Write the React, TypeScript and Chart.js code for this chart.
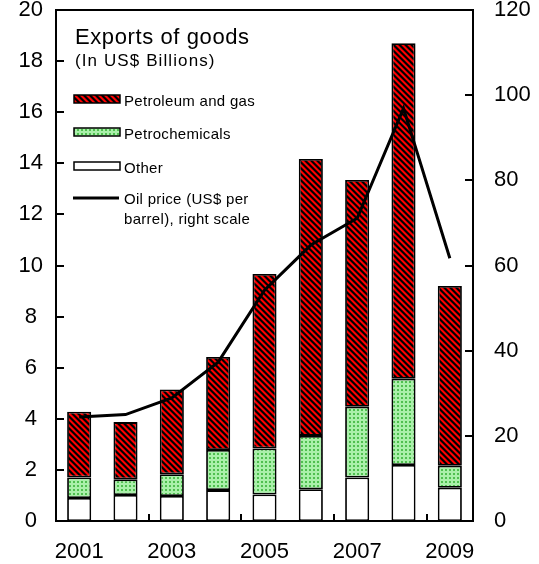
import React, { useEffect, useRef } from 'react';
import { Chart, registerables } from 'chart.js';

Chart.register(...registerables);

const years = ['2001', '2002', '2003', '2004', '2005', '2006', '2007', '2008', '2009'];
const shownYears = ['2001', '', '2003', '', '2005', '', '2007', '', '2009'];
const other = [0.9, 1.02, 0.98, 1.21, 1.04, 1.24, 1.7, 2.19, 1.3];
const petrochemicals = [0.8, 0.61, 0.85, 1.57, 1.8, 2.09, 2.77, 3.38, 0.86];
const petroleumGas = [2.58, 2.24, 3.32, 3.64, 6.83, 10.84, 8.88, 13.13, 7.04];
const oilPrice = [24.4, 25.0, 28.9, 37.3, 54.2, 64.8, 71.1, 96.9, 61.7];

const titleText = 'Exports of goods';
const subtitleText = '(In US$ Billions)';
const legendLabels = ['Petroleum and gas', 'Petrochemicals', 'Other'];
const lineLegendLines = ['Oil price (US$ per', 'barrel), right scale'];

const FONT = "'Liberation Sans', Arial, sans-serif";

function makeStripes(ctx0: CanvasRenderingContext2D): CanvasPattern {
  const n = 6;
  const c = document.createElement('canvas');
  c.width = n;
  c.height = n;
  const g = c.getContext('2d')!;
  const img = g.createImageData(n, n);
  for (let y = 0; y < n; y++) {
    for (let x = 0; x < n; x++) {
      const d = (((x - y) % n) + n) % n;
      const i = (y * n + x) * 4;
      let r = 255, gg = 0, b = 0;
      if (d === 0 || d === 1) { r = 0; }
      else if (d === 2) { r = 90; }
      else if (d === 5) { r = 150; }
      img.data[i] = r; img.data[i + 1] = gg; img.data[i + 2] = b; img.data[i + 3] = 255;
    }
  }
  g.putImageData(img, 0, 0);
  return ctx0.createPattern(c, 'repeat')!;
}

function makeDots(ctx0: CanvasRenderingContext2D): CanvasPattern {
  const n = 4;
  const c = document.createElement('canvas');
  c.width = n;
  c.height = n;
  const g = c.getContext('2d')!;
  g.fillStyle = '#aaf0aa';
  g.fillRect(0, 0, n, n);
  g.fillStyle = '#4fbf4f';
  g.fillRect(1, 1, 2, 2);
  return ctx0.createPattern(c, 'repeat')!;
}

export default function App() {
  const ref = useRef<HTMLCanvasElement | null>(null);

  useEffect(() => {
    const canvas = ref.current!;
    const ctx0 = canvas.getContext('2d')!;
    const stripes = makeStripes(ctx0);
    const dots = makeDots(ctx0);

    const framePlugin = {
      id: 'frameAndLegend',
      afterDraw(chart: any) {
        const { ctx, chartArea } = chart;
        const { left, right, top, bottom } = chartArea;
        const sx = chart.scales.x;
        const sy = chart.scales.y;
        const sy1 = chart.scales.y1;
        ctx.save();
        ctx.strokeStyle = '#000';
        ctx.lineWidth = 2;
        ctx.strokeRect(left, top, right - left, bottom - top);
        ctx.beginPath();
        sy.ticks.forEach((t: any) => {
          const y = Math.round(sy.getPixelForValue(t.value));
          ctx.moveTo(left, y);
          ctx.lineTo(left + 8, y);
        });
        sy1.ticks.forEach((t: any) => {
          const y = Math.round(sy1.getPixelForValue(t.value));
          ctx.moveTo(right - 8, y);
          ctx.lineTo(right, y);
        });
        for (let i = 1; i < years.length - 1; i += 2) {
          const x = Math.round(sx.getPixelForValue(i + 0.5));
          ctx.moveTo(x, bottom);
          ctx.lineTo(x, bottom - 7);
        }
        ctx.stroke();

        // legend
        ctx.fillStyle = '#000';
        ctx.textBaseline = 'alphabetic';
        ctx.textAlign = 'left';
        ctx.font = `22px ${FONT}`;
        (ctx as any).letterSpacing = '0.6px';
        ctx.fillText(titleText, 75, 44);
        ctx.font = `17px ${FONT}`;
        (ctx as any).letterSpacing = '1.1px';
        ctx.fillText(subtitleText, 75, 66);

        const fills = [stripes, dots, '#ffffff'];
        const centers = [99, 132, 166];
        ctx.font = `15px ${FONT}`;
        (ctx as any).letterSpacing = '0.3px';
        for (let k = 0; k < 3; k++) {
          const cy = centers[k];
          ctx.fillStyle = fills[k];
          ctx.fillRect(74, cy - 4, 46, 8);
          ctx.lineWidth = 1.5;
          ctx.strokeStyle = '#000';
          ctx.strokeRect(74, cy - 4, 46, 8);
          ctx.fillStyle = '#000';
          ctx.fillText(legendLabels[k], 124, cy + 6.5);
        }
        ctx.beginPath();
        ctx.lineWidth = 3;
        ctx.moveTo(73, 198);
        ctx.lineTo(119, 198);
        ctx.stroke();
        ctx.fillText(lineLegendLines[0], 124, 204);
        ctx.fillText(lineLegendLines[1], 124, 224);
        (ctx as any).letterSpacing = '0px';
        ctx.restore();
      },
    };

    const tickFont = { family: FONT, size: 22 };
    const noPad = (s: any) => {
      s.paddingTop = 0;
      s.paddingBottom = 0;
      s.paddingLeft = 0;
      s.paddingRight = 0;
    };
    const barStyle = {
      borderColor: '#000',
      borderWidth: 1.8,
      borderSkipped: false,
      barPercentage: 1,
      categoryPercentage: 0.52,
      order: 1,
      yAxisID: 'y',
    };

    const chart = new Chart(canvas, {
      type: 'bar',
      data: {
        labels: years,
        datasets: [
          {
            type: 'line',
            label: 'Oil price',
            data: oilPrice,
            yAxisID: 'y1',
            borderColor: '#000',
            borderWidth: 3,
            pointRadius: 0,
            tension: 0,
            fill: false,
            order: 0,
          } as any,
          { type: 'bar', label: 'Other', data: other, backgroundColor: '#ffffff', ...barStyle },
          { type: 'bar', label: 'Petrochemicals', data: petrochemicals, backgroundColor: dots as any, ...barStyle },
          { type: 'bar', label: 'Petroleum and gas', data: petroleumGas, backgroundColor: stripes as any, ...barStyle },
        ],
      },
      options: {
        responsive: false,
        animation: false,
        layout: { padding: { top: 10, left: 0, right: 0, bottom: 0 } },
        plugins: { legend: { display: false }, tooltip: { enabled: false } },
        scales: {
          x: {
            stacked: true,
            grid: { display: false, drawTicks: false },
            border: { display: false },
            ticks: {
              autoSkip: false,
              maxRotation: 0,
              color: '#000',
              font: tickFont,
              padding: 18,
              callback: (_v: any, i: number) => shownYears[i],
            },
            afterFit: (s: any) => { s.height = 43; noPad(s); },
          },
          y: {
            type: 'linear',
            position: 'left',
            stacked: true,
            min: 0,
            max: 20,
            grid: { display: false, drawTicks: false },
            border: { display: false },
            ticks: { stepSize: 2, color: '#000', font: tickFont, padding: 13, crossAlign: 'center' },
            afterFit: (s: any) => { s.width = 56; noPad(s); },
          },
          y1: {
            type: 'linear',
            position: 'right',
            min: 0,
            max: 120,
            grid: { display: false, drawTicks: false },
            border: { display: false },
            ticks: { stepSize: 20, color: '#000', font: tickFont, padding: 21, crossAlign: 'near' },
            afterFit: (s: any) => { s.width = 66; noPad(s); },
          },
        },
      } as any,
      plugins: [framePlugin],
    });

    return () => chart.destroy();
  }, []);

  return (
    <div style={{ position: 'absolute', left: 0, top: 0, width: 539, height: 564, background: '#fff' }}>
      <canvas ref={ref} width={539} height={564} style={{ display: 'block' }} />
    </div>
  );
}
